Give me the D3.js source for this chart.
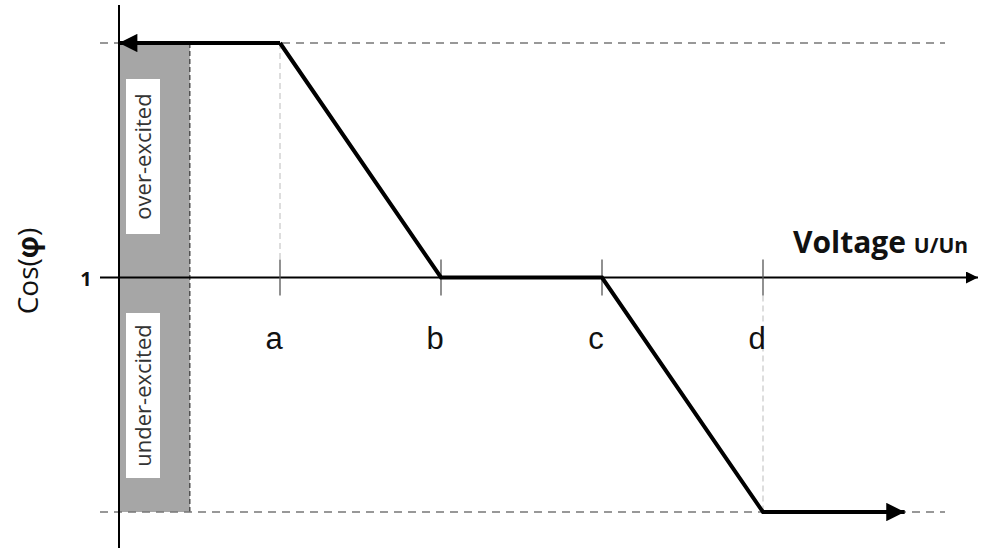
<!DOCTYPE html>
<html>
<head>
<meta charset="utf-8">
<script src="https://cdn.jsdelivr.net/npm/d3@7"></script>
<style>
  body { margin: 0; background: #fff; }
  svg { display: block; }
</style>
</head>
<body>
<div id="chart"></div>
<script>
// control characteristic cos(phi) vs voltage

// voltage breakpoints (tick positions in units of spacing)
const tickLabels = ["a", "b", "c", "d"];
const tickValues = [1, 2, 3, 4];

// curve: x in voltage units, y: 1 = over-excited limit, 0 = cos phi 1, -1 = under-excited limit
const curveX = [0, 1, 2, 3, 4, 4.88];
const curveY = [1, 1, 0, 0, -1, -1];

// shaded band (voltage extent)
const bandX = [0, 0.44];
const bandLabels = ["over-excited", "under-excited"];

const width = 995, height = 551;

const x = d3.scaleLinear().domain([0, 1]).range([119, 280]);
const y = d3.scaleLinear().domain([-1, 1]).range([512, 43]);

const svg = d3.select("#chart").append("svg")
    .attr("width", width)
    .attr("height", height);

const defs = svg.append("defs");
defs.append("marker")
    .attr("id", "thickArrow")
    .attr("viewBox", "0 0 10 10")
    .attr("refX", 10).attr("refY", 5)
    .attr("markerWidth", 6.5).attr("markerHeight", 4.6)
    .attr("markerUnits", "strokeWidth")
    .attr("orient", "auto-start-reverse")
    .append("path").attr("d", "M0,0 L10,5 L0,10 Z").attr("fill", "#000");
defs.append("marker")
    .attr("id", "axisArrow")
    .attr("viewBox", "0 0 10 10")
    .attr("refX", 10).attr("refY", 5)
    .attr("markerWidth", 9).attr("markerHeight", 6)
    .attr("markerUnits", "strokeWidth")
    .attr("orient", "auto")
    .append("path").attr("d", "M0,0 L10,5 L0,10 Z").attr("fill", "#000");

// shaded band
svg.append("rect")
    .attr("x", x(bandX[0]))
    .attr("y", y(1))
    .attr("width", x(bandX[1]) - x(bandX[0]))
    .attr("height", y(-1) - y(1))
    .attr("fill", "#a6a6a6");
svg.append("line")
    .attr("x1", x(bandX[1])).attr("x2", x(bandX[1]))
    .attr("y1", y(1)).attr("y2", y(-1))
    .attr("stroke", "#333").attr("stroke-width", 1.2)
    .attr("stroke-dasharray", "5,3");

// label boxes in the band
const boxes = [
    { text: bandLabels[0], y0: 79, y1: 234 },
    { text: bandLabels[1], y0: 313, y1: 478 }
];
boxes.forEach(b => {
    svg.append("rect")
        .attr("x", 126).attr("y", b.y0)
        .attr("width", 34).attr("height", b.y1 - b.y0)
        .attr("fill", "#fff");
    svg.append("text")
        .attr("transform", `translate(151,${(b.y0 + b.y1) / 2}) rotate(-90)`)
        .attr("text-anchor", "middle")
        .attr("font-family", "Open Sans, sans-serif")
        .attr("font-size", 22)
        .attr("fill", "#333")
        .text(b.text);
});

// dashed limit lines
[1, -1].forEach(v => {
    svg.append("line")
        .attr("x1", 100).attr("x2", 945)
        .attr("y1", y(v)).attr("y2", y(v))
        .attr("stroke", "#777").attr("stroke-width", 1.5)
        .attr("stroke-dasharray", "8,6");
});

// light dashed guides at a and d
svg.append("line")
    .attr("x1", x(tickValues[0])).attr("x2", x(tickValues[0]))
    .attr("y1", y(1)).attr("y2", y(0) - 18)
    .attr("stroke", "#bbb").attr("stroke-width", 1)
    .attr("stroke-dasharray", "6,4");
svg.append("line")
    .attr("x1", x(tickValues[3])).attr("x2", x(tickValues[3]))
    .attr("y1", y(0) + 18).attr("y2", y(-1))
    .attr("stroke", "#bbb").attr("stroke-width", 1)
    .attr("stroke-dasharray", "6,4");

// axes
svg.append("line")
    .attr("x1", x(0)).attr("x2", x(0))
    .attr("y1", 5).attr("y2", 548)
    .attr("stroke", "#000").attr("stroke-width", 2);
svg.append("line")
    .attr("x1", 100).attr("x2", 978)
    .attr("y1", y(0)).attr("y2", y(0))
    .attr("stroke", "#000").attr("stroke-width", 2)
    .attr("marker-end", "url(#axisArrow)");

// ticks + labels
const tickG = svg.selectAll(".tick")
    .data(tickValues)
    .enter().append("g")
    .attr("transform", d => `translate(${x(d)},0)`);
tickG.append("line")
    .attr("y1", y(0) - 18).attr("y2", y(0) + 18)
    .attr("stroke", "#555").attr("stroke-width", 1.3);
tickG.append("text")
    .attr("x", -6)
    .attr("y", 349)
    .attr("text-anchor", "middle")
    .attr("font-family", "Liberation Sans, Arial, sans-serif")
    .attr("font-size", 31)
    .attr("fill", "#111")
    .text((d, i) => tickLabels[i]);

// curve (left arrow on first segment, right arrow at end)
const pts = curveX.map((d, i) => [x(d), y(curveY[i])]);
const line = d3.line();
svg.append("path")
    .attr("d", line(pts.slice(0, 2)))
    .attr("fill", "none").attr("stroke", "#000").attr("stroke-width", 4)
    .attr("marker-start", "url(#thickArrow)");
svg.append("path")
    .attr("d", line(pts.slice(1, pts.length)))
    .attr("fill", "none").attr("stroke", "#000").attr("stroke-width", 4)
    .attr("stroke-linejoin", "miter")
    .attr("marker-end", "url(#thickArrow)");

// axis labels
svg.append("text")
    .attr("x", 86).attr("y", 286)
    .attr("text-anchor", "middle")
    .attr("font-family", "Open Sans, sans-serif")
    .attr("font-weight", "bold")
    .attr("font-size", 20)
    .attr("fill", "#111")
    .text("1");

const yl = svg.append("text")
    .attr("transform", "translate(38,271) rotate(-90)")
    .attr("text-anchor", "middle")
    .attr("font-family", "Open Sans, sans-serif")
    .attr("font-size", 28)
    .attr("fill", "#111");
yl.append("tspan").text("Cos(");
yl.append("tspan").attr("font-weight", "bold").text("φ");
yl.append("tspan").text(")");

const xl = svg.append("text")
    .attr("x", 793).attr("y", 253)
    .attr("font-family", "Open Sans, sans-serif")
    .attr("font-weight", "bold")
    .attr("fill", "#111");
xl.append("tspan").attr("font-size", 30).text("Voltage ");
xl.append("tspan").attr("font-size", 21).text("U/Un");
</script>
</body>
</html>
